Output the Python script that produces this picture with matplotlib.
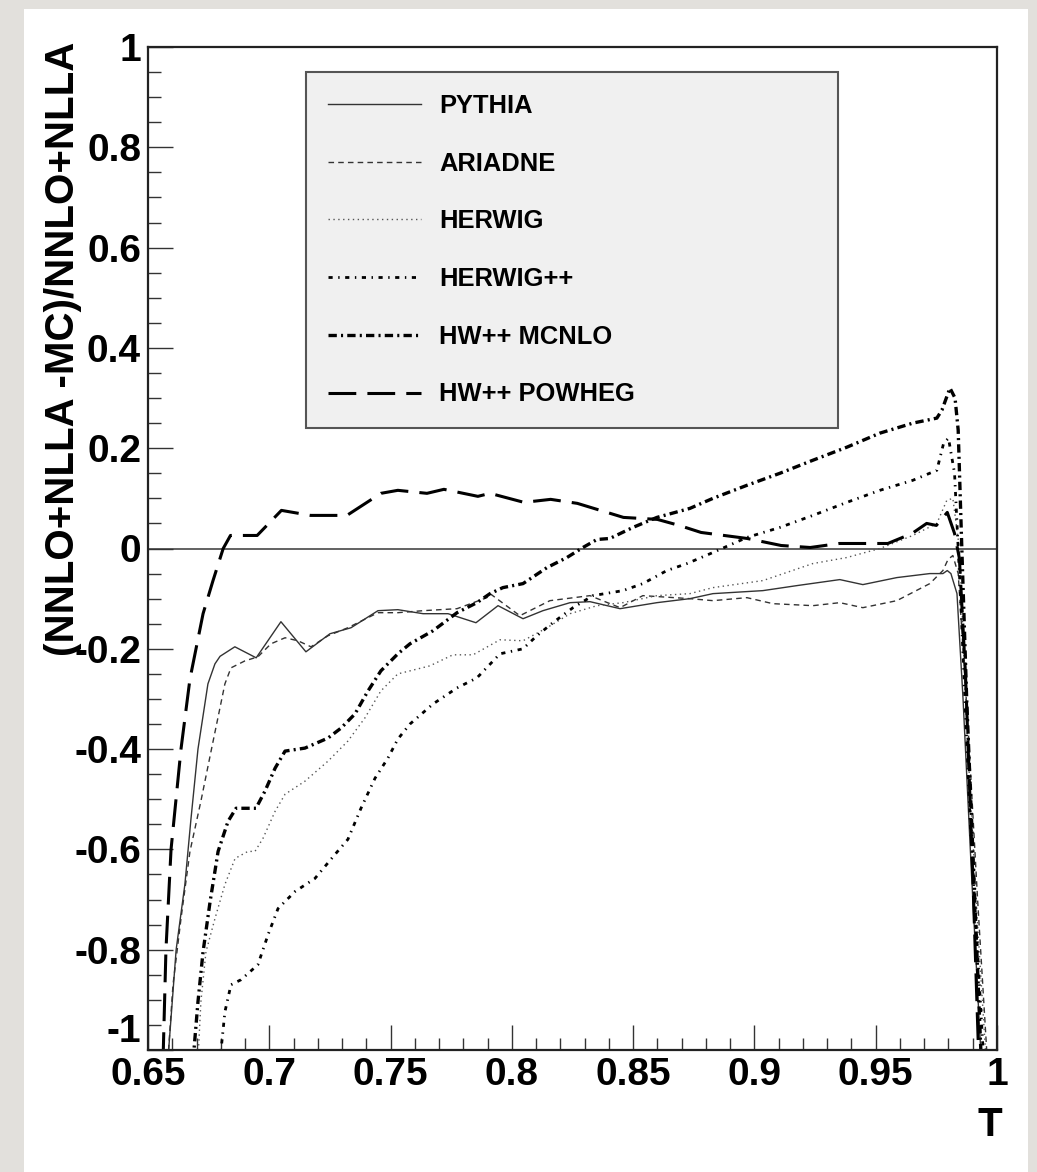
import numpy as np
import matplotlib
matplotlib.use("Agg")
import matplotlib.pyplot as plt
from matplotlib.patches import Rectangle
from matplotlib.ticker import MultipleLocator

plt.rcParams['font.family'] = ['Liberation Sans', 'DejaVu Sans']
plt.rcParams['font.weight'] = 'bold'
plt.rcParams['lines.scale_dashes'] = False

# curves: thrust T and (NNLO+NLLA-MC)/(NNLO+NLLA)
t_pythia = [0.6582, 0.6616, 0.6652, 0.6677, 0.6706, 0.6747, 0.6776, 0.6797, 0.6858, 0.6946,
            0.7048, 0.7151, 0.725, 0.7337, 0.7448, 0.753, 0.7634, 0.7737, 0.7852, 0.7943,
            0.8046, 0.8128, 0.824, 0.8322, 0.8446, 0.8598, 0.8734, 0.8829, 0.9035, 0.9175,
            0.9352, 0.9447, 0.9587, 0.9723, 0.9777, 0.9795, 0.981, 0.9835, 0.986, 0.9895, 0.9935]
y_pythia = [-1.02, -0.80, -0.67, -0.54, -0.40, -0.27, -0.23, -0.215, -0.196, -0.218,
            -0.146, -0.206, -0.17, -0.158, -0.124, -0.122, -0.13, -0.13, -0.148, -0.114,
            -0.14, -0.124, -0.108, -0.106, -0.12, -0.108, -0.10, -0.09, -0.084, -0.074,
            -0.062, -0.072, -0.058, -0.05, -0.05, -0.044, -0.05, -0.09, -0.3, -0.65, -1.02]

t_ariadne = [0.6582, 0.6603, 0.6636, 0.6673, 0.6718, 0.676, 0.6817, 0.6842, 0.69, 0.6953,
             0.7007, 0.7065, 0.7118, 0.7172, 0.7242, 0.7324, 0.7448, 0.753, 0.7634, 0.7774,
             0.7897, 0.791, 0.8033, 0.8157, 0.8322, 0.8446, 0.854, 0.8734, 0.8829, 0.8969,
             0.9076, 0.9241, 0.9352, 0.9447, 0.9587, 0.9723, 0.9777, 0.9798, 0.9818, 0.984,
             0.988, 0.992, 0.996]
y_ariadne = [-1.02, -0.87, -0.738, -0.604, -0.504, -0.404, -0.27, -0.238, -0.224, -0.216,
             -0.19, -0.178, -0.184, -0.196, -0.174, -0.158, -0.128, -0.128, -0.124, -0.12,
             -0.098, -0.09, -0.134, -0.104, -0.094, -0.118, -0.094, -0.10, -0.104, -0.098,
             -0.11, -0.114, -0.108, -0.118, -0.104, -0.07, -0.044, -0.022, -0.014, -0.05,
             -0.35, -0.7, -1.02]

t_herwig = [0.6706, 0.6718, 0.6739, 0.6776, 0.6817, 0.6859, 0.6912, 0.6941, 0.6974, 0.7024,
            0.7065, 0.7147, 0.7242, 0.7324, 0.7394, 0.746, 0.753, 0.758, 0.7662, 0.7757,
            0.784, 0.7951, 0.8046, 0.8145, 0.824, 0.8351, 0.8458, 0.8598, 0.8734, 0.8829,
            0.9035, 0.9241, 0.9381, 0.9517, 0.9653, 0.9752, 0.9793, 0.9818, 0.9845, 0.988,
            0.992, 0.9955]
y_herwig = [-1.02, -0.904, -0.804, -0.738, -0.67, -0.618, -0.604, -0.604, -0.578, -0.524,
            -0.49, -0.464, -0.424, -0.384, -0.338, -0.284, -0.25, -0.244, -0.234, -0.212,
            -0.212, -0.182, -0.184, -0.158, -0.13, -0.114, -0.108, -0.094, -0.09, -0.078,
            -0.064, -0.03, -0.018, 0.0, 0.026, 0.05, 0.096, 0.10, 0.0, -0.4,
            -0.75, -1.02]

t_herwigpp = [0.6797, 0.6817, 0.6842, 0.6883, 0.6953, 0.6995, 0.7036, 0.7106, 0.7188, 0.7271,
              0.7324, 0.7378, 0.7436, 0.7489, 0.753, 0.758, 0.7675, 0.7774, 0.7856, 0.7951,
              0.8046, 0.8103, 0.8169, 0.8252, 0.8334, 0.8458, 0.854, 0.8639, 0.8722, 0.8829,
              0.8969, 0.9105, 0.9241, 0.9381, 0.9517, 0.9653, 0.9752, 0.978, 0.98, 0.9825,
              0.985, 0.989, 0.9945]
y_herwigpp = [-1.02, -0.924, -0.87, -0.86, -0.83, -0.77, -0.718, -0.684, -0.658, -0.61,
              -0.58, -0.518, -0.458, -0.418, -0.38, -0.35, -0.31, -0.278, -0.258, -0.21,
              -0.20, -0.174, -0.148, -0.118, -0.094, -0.084, -0.07, -0.044, -0.03, -0.008,
              0.022, 0.042, 0.066, 0.092, 0.116, 0.136, 0.156, 0.21, 0.22, 0.15,
              -0.1, -0.55, -1.02]

t_mcnlo = [0.6686, 0.6706, 0.6727, 0.6756, 0.6789, 0.683, 0.6863, 0.6945, 0.6982, 0.7024,
           0.7065, 0.7147, 0.7242, 0.7296, 0.7353, 0.7407, 0.746, 0.753, 0.758, 0.7675,
           0.7774, 0.7856, 0.791, 0.7963, 0.8046, 0.8145, 0.8227, 0.8293, 0.8351, 0.8404,
           0.8499, 0.8598, 0.8734, 0.8829, 0.8969, 0.9105, 0.9241, 0.9381, 0.9517, 0.9653,
           0.9752, 0.9773, 0.9806, 0.9827, 0.984, 0.9855, 0.9875, 0.990, 0.9935]
y_mcnlo = [-1.02, -0.904, -0.804, -0.704, -0.604, -0.544, -0.518, -0.518, -0.484, -0.438,
           -0.404, -0.398, -0.378, -0.358, -0.33, -0.284, -0.244, -0.21, -0.19, -0.164,
           -0.128, -0.108, -0.09, -0.078, -0.07, -0.038, -0.018, 0.002, 0.018, 0.02,
           0.042, 0.062, 0.08, 0.10, 0.126, 0.15, 0.176, 0.202, 0.23, 0.25,
           0.26, 0.276, 0.32, 0.30, 0.236, 0.0, -0.3, -0.6, -1.02]

t_powheg = [0.6562, 0.6574, 0.6595, 0.6636, 0.6673, 0.6727, 0.6768, 0.681, 0.684, 0.695,
            0.705, 0.717, 0.732, 0.746, 0.753, 0.765, 0.772, 0.786, 0.791, 0.805,
            0.816, 0.827, 0.846, 0.86, 0.869, 0.878, 0.897, 0.911, 0.923, 0.935,
            0.955, 0.965, 0.971, 0.975, 0.9795, 0.9825, 0.9845, 0.987, 0.990, 0.9925]
y_powheg = [-1.02, -0.80, -0.60, -0.40, -0.26, -0.13, -0.064, 0.0, 0.026, 0.026,
            0.076, 0.066, 0.066, 0.11, 0.116, 0.11, 0.118, 0.104, 0.11, 0.092,
            0.098, 0.09, 0.062, 0.058, 0.046, 0.032, 0.02, 0.006, 0.002, 0.01,
            0.01, 0.03, 0.05, 0.046, 0.072, 0.03, -0.02, -0.25, -0.65, -1.02]

labels = ['PYTHIA', 'ARIADNE', 'HERWIG', 'HERWIG++', 'HW++ MCNLO', 'HW++ POWHEG']

W, H = 1037, 1172
fig = plt.figure(figsize=(W / 100, H / 100), dpi=100)
fig.patch.set_facecolor('#e2e0dc')
# white page behind the plot
fig.patches.append(Rectangle((24 / W, 0), (1028 - 24) / W, 1 - 9 / H,
                             transform=fig.transFigure, facecolor='white',
                             edgecolor='none', zorder=-10))

ax = fig.add_axes([148 / W, 1 - 1050 / H, (997 - 148) / W, (1050 - 47) / H])
ax.set_facecolor('white')

ax.plot(t_pythia, y_pythia, color='#333333', lw=1.0, ls='-', label=labels[0])
ax.plot(t_ariadne, y_ariadne, color='#333333', lw=1.0, ls=(0, (4, 3)), label=labels[1])
ax.plot(t_herwig, y_herwig, color='#555555', lw=1.0, ls=(0, (1, 2.5)), label=labels[2])
ax.plot(t_herwigpp, y_herwigpp, color='black', lw=2.0, ls=(0, (3, 4, 1, 4)), label=labels[3])
ax.plot(t_mcnlo, y_mcnlo, color='black', lw=2.4, ls=(0, (6, 3, 1.5, 3)), label=labels[4])
ax.plot(t_powheg, y_powheg, color='black', lw=2.2, ls=(0, (20, 8)), label=labels[5])

ax.axhline(0, color='#555555', lw=1.3, zorder=1)

ax.set_xlim(0.65, 1.0)
ax.set_ylim(-1, 1)
ax.xaxis.set_minor_locator(MultipleLocator(0.01))
ax.yaxis.set_minor_locator(MultipleLocator(0.05))
ax.set_xticks([0.65, 0.7, 0.75, 0.8, 0.85, 0.9, 0.95, 1.0])
ax.set_xticklabels(['0.65', '0.7', '0.75', '0.8', '0.85', '0.9', '0.95', '1'])
ax.set_yticks([-1, -0.8, -0.6, -0.4, -0.2, 0, 0.2, 0.4, 0.6, 0.8, 1])
ax.set_yticklabels(['-1', '-0.8', '-0.6', '-0.4', '-0.2', '0', '0.2', '0.4', '0.6', '0.8', '1'])
ax.tick_params(which='both', direction='in', top=False, right=False, width=1.0, color='#333333')
ax.tick_params(which='major', length=18, labelsize=28, pad=5)
ax.tick_params(which='minor', length=9)
for lab in ax.get_xticklabels() + ax.get_yticklabels():
    lab.set_fontweight('bold')
ax.get_yticklabels()[0].set_va('bottom')
for s in ax.spines.values():
    s.set_linewidth(1.6)
    s.set_color('#222222')

leg = ax.legend(loc='upper left', bbox_to_anchor=(0.186, 0.625, 0.627, 0.35), mode='expand',
                fontsize=18.4, frameon=True, fancybox=False, borderpad=0.85,
                labelspacing=1.32, handlelength=3.67, handletextpad=0.7, borderaxespad=0)
leg.get_frame().set_facecolor('#f0f0f0')
leg.get_frame().set_edgecolor('#555555')
leg.get_frame().set_linewidth(1.5)
leg.get_frame().set_alpha(1)
for txt in leg.get_texts():
    txt.set_fontweight('bold')

fig.text(63 / W, 1 - 42 / H, '(NNLO+NLLA -MC)/NNLO+NLLA', rotation=90, ha='center', va='top',
         fontsize=29, fontweight='bold')
fig.text(990 / W, 1 - 1125 / H, 'T', ha='center', va='center', fontsize=29, fontweight='bold')

fig.savefig('out.png', dpi=100, facecolor=fig.get_facecolor())
